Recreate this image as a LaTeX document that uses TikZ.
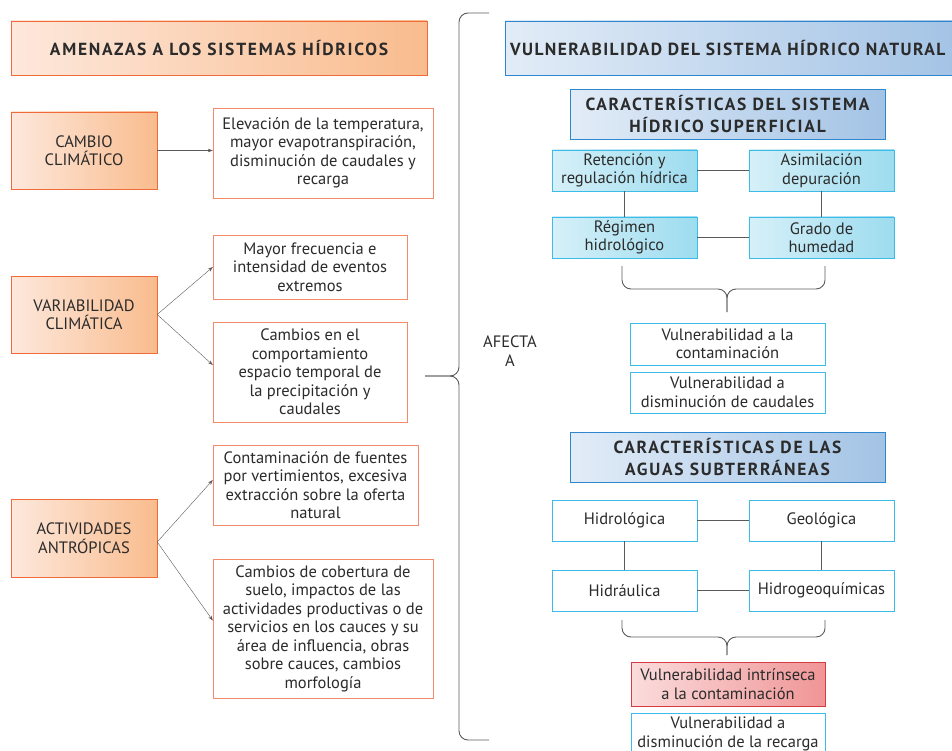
\documentclass[tikz,border=0pt]{standalone}
\usepackage{fontspec}
\setmainfont{PT Sans}
\newfontfamily\capsfont[LetterSpace=10]{PT Sans}
\newfontfamily\widecaps[LetterSpace=8]{PT Sans}
\usetikzlibrary{arrows.meta}
\definecolor{txt}{HTML}{2B2B2B}
\definecolor{link}{HTML}{5A5A5A}
\definecolor{amlight}{HTML}{FDE8DC}
\definecolor{amdark}{HTML}{F9BC8E}
\definecolor{amline}{HTML}{F06A3A}
\definecolor{amthin}{HTML}{F58A6A}
\definecolor{bllight}{HTML}{E2ECF7}
\definecolor{bldark}{HTML}{A3C3E5}
\definecolor{blline}{HTML}{2E86CF}
\definecolor{cylight}{HTML}{D6F0F8}
\definecolor{cydark}{HTML}{9DDCEF}
\definecolor{cyline}{HTML}{3CBDE9}
\definecolor{rdlight}{HTML}{FBDCDC}
\definecolor{rddark}{HTML}{F09596}
\definecolor{rdline}{HTML}{D93B44}
\begin{document}
\begin{tikzpicture}[x=1pt,y=-1pt,
  every node/.style={font=\fontsize{16.5}{18.5}\selectfont, text=txt, align=center, inner sep=2pt},
  dims/.style 2 args={minimum width=#1pt, minimum height=#2pt},
  headtxt/.style={font=\capsfont\bfseries\fontsize{17.5}{22}\selectfont},
  amhead/.style={draw=amline, left color=amlight, right color=amdark, headtxt},
  ambox/.style={draw=amline, left color=amlight, right color=amdark},
  thinbox/.style={draw=amthin, fill=white},
  blhead/.style={draw=blline, left color=bllight, right color=bldark, headtxt},
  cybox/.style={draw=cyline, left color=cylight, right color=cydark},
  cyframe/.style={draw=cyline, fill=white},
  rdbox/.style={draw=rdline, left color=rdlight, right color=rddark},
  arr/.style={draw=link, -{Stealth[length=5pt,width=3.5pt]}},
  tie/.style={draw=link, line width=0.9pt},
  brc/.style={draw=link, line width=0.9pt, rounded corners=9pt}]
  \clip (0,0) rectangle (952,751);
  % threats column
  \node[amhead, dims={416}{54}] (amenazas) at (219,48) {AMENAZAS A LOS SISTEMAS HÍDRICOS};
  \node[ambox, dims={146}{77}] (cambio) at (84,150.5) {CAMBIO\\CLIMÁTICO};
  \node[thinbox, dims={220}{90}] (elevacion) at (323,153) {Elevación de la temperatura,\\mayor evapotranspiración,\\disminución de caudales y\\recarga};
  \node[ambox, dims={146}{77}] (variab) at (84,314.5) {VARIABILIDAD\\CLIMÁTICA};
  \node[thinbox, dims={194}{64}] (mayor) at (310,267) {Mayor frecuencia e\\intensidad de eventos\\extremos};
  \node[thinbox, dims={194}{100}] (comport) at (310,372) {Cambios en el\\comportamiento\\espacio temporal de\\la precipitación y\\caudales};
  \node[ambox, dims={146}{78}] (activ) at (84,538) {ACTIVIDADES\\ANTRÓPICAS};
  \node[thinbox, dims={205}{80}] (contam) at (315.5,485) {Contaminación de fuentes\\por vertimientos, excesiva\\extracción sobre la oferta\\natural};
  \node[thinbox, dims={220}{139}] (cobert) at (323,628.5) {Cambios de cobertura de\\suelo, impactos de las\\actividades productivas o de\\servicios en los cauces y su\\área de influencia, obras\\sobre cauces, cambios\\morfología};
  \draw[arr] (cambio.east) -- (cambio.east -| elevacion.west);
  \draw[arr] (variab.east) -- (mayor.west);
  \draw[arr] (variab.east) -- ([yshift=7pt]comport.west);
  \draw[arr] ([yshift=-4pt]activ.east) -- ([yshift=5pt]contam.west);
  \draw[arr] ([yshift=-4pt]activ.east) -- ([yshift=8pt]cobert.west);
  % big brace
  \coordinate (tip) at (425,376);
  \draw[brc] (489,13) -- (459,13) -- (459,376) -- (tip);
  \draw[brc] (489,740) -- (459,740) -- (459,376) -- (tip);
  \node (afecta) at (510,351) {AFECTA\\A};
  % vulnerability column
  \node[blhead, font=\widecaps\bfseries\fontsize{17.5}{22}\selectfont, anchor=west, text width=447pt, align=left, inner xsep=5pt, minimum height=54pt] (vulnhead) at (505,48) {VULNERABILIDAD DEL SISTEMA HÍDRICO NATURAL};
  \node[blhead, dims={315}{50}] (suphead) at (727.5,114.5) {CARACTERÍSTICAS DEL SISTEMA\\HÍDRICO SUPERFICIAL};
  \node[cybox, dims={145}{41}] (reten) at (624.5,170.5) {Retención y\\regulación hídrica};
  \node[cybox, dims={145}{41}] (asimil) at (821.5,170.5) {Asimilación\\depuración};
  \node[cybox, dims={145}{41}] (regimen) at (624.5,237.5) {Régimen\\hidrológico};
  \node[cybox, dims={145}{41}] (grado) at (821.5,237.5) {Grado de\\humedad};
  \draw[tie] (reten) -- (asimil);
  \draw[tie] (regimen) -- (grado);
  \draw[tie] (reten) -- (regimen);
  \draw[tie] (asimil) -- (grado);
  \draw[brc] (622,266) -- (622,289) -- (727,289) -- (727,312);
  \draw[brc] (825,266) -- (825,289) -- (727,289) -- (727,312);
  \node[cyframe, dims={195}{42}] (vcont) at (727.5,344) {Vulnerabilidad a la\\contaminación};
  \node[cyframe, dims={195}{41}] (vcaud) at (727.5,392.5) {Vulnerabilidad a\\disminución de caudales};
  \node[blhead, dims={315}{50}] (subhead) at (727.5,457) {CARACTERÍSTICAS DE LAS\\AGUAS SUBTERRÁNEAS};
  \node[cyframe, dims={145}{41}] (hidrol) at (624.5,520.5) {Hidrológica};
  \node[cyframe, dims={145}{41}] (geol) at (821.5,520.5) {Geológica};
  \node[cyframe, dims={145}{41}] (hidrau) at (624.5,590.5) {Hidráulica};
  \node[cyframe, dims={145}{41}] (hidrog) at (821.5,590.5) {Hidrogeoquímicas};
  \draw[tie] (hidrol) -- (geol);
  \draw[tie] (hidrau) -- (hidrog);
  \draw[tie] (hidrol) -- (hidrau);
  \draw[tie] (geol) -- (hidrog);
  \draw[brc] (622,620) -- (622,637) -- (727,637) -- (727,655);
  \draw[brc] (825,620) -- (825,637) -- (727,637) -- (727,655);
  \node[rdbox, dims={194}{44}] (vintr) at (728,684) {Vulnerabilidad intrínseca\\a la contaminación};
  \node[cyframe, dims={194}{42}, inner sep=1pt] (vrec) at (728,734) {Vulnerabilidad a\\disminución de la recarga};
\end{tikzpicture}
\end{document}
